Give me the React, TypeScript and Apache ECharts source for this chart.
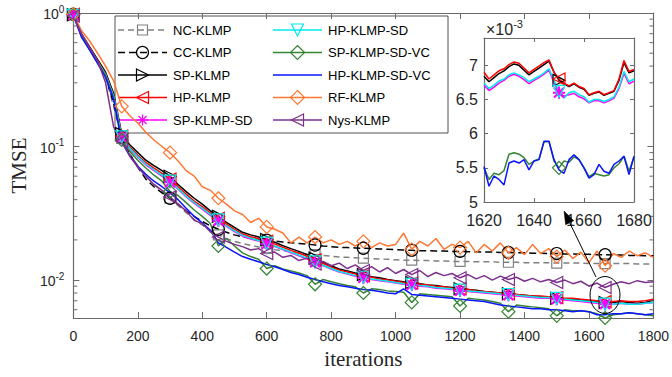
import React, { useEffect, useRef } from "react";
import * as echarts from "echarts";

// ---------- data ----------
const ITER: number[] = Array.from({ length: 73 }, (_, i) => i * 25);
const ITER_INSET: number[] = Array.from({ length: 31 }, (_, i) => 1620 + i * 2);

const NC_KLMP = [
  0.97, 0.68, 0.54, 0.43, 0.33, 0.2, 0.115, 0.088, 0.072, 0.06, 0.052, 0.046,
  0.041, 0.036, 0.032, 0.0285, 0.0258, 0.0235, 0.0218, 0.0205, 0.0195, 0.0188, 0.0182, 0.0177,
  0.0173, 0.0169, 0.0166, 0.0163, 0.016, 0.0157, 0.0155, 0.0153, 0.0151, 0.0149, 0.0148, 0.0147,
  0.0146, 0.0145, 0.0144, 0.0143, 0.0142, 0.0141, 0.0141, 0.014, 0.014, 0.0139, 0.0139, 0.0138,
  0.0138, 0.0138, 0.0137, 0.0137, 0.0137, 0.0136, 0.0136, 0.0136, 0.0135, 0.0135, 0.0135, 0.0135,
  0.0134, 0.0134, 0.0134, 0.0134, 0.0133, 0.0133, 0.0133, 0.0133, 0.0133, 0.0133, 0.0132, 0.0132,
  0.0132,
];
const CC_KLMP = [
  0.98, 0.69, 0.55, 0.44, 0.34, 0.21, 0.118, 0.088, 0.07, 0.057, 0.05, 0.045,
  0.041, 0.037, 0.033, 0.03, 0.0275, 0.0255, 0.024, 0.0228, 0.0218, 0.0211, 0.0206, 0.0202,
  0.0199, 0.0196, 0.0193, 0.019, 0.0188, 0.0186, 0.0183, 0.018, 0.0178, 0.0176, 0.0175, 0.0174,
  0.0173, 0.0172, 0.0171, 0.017, 0.0169, 0.0168, 0.0167, 0.0166, 0.0166, 0.0165, 0.0165, 0.0164,
  0.0164, 0.0163, 0.0163, 0.0162, 0.0162, 0.0161, 0.0161, 0.016, 0.016, 0.0159, 0.0159, 0.0158,
  0.0158, 0.0157, 0.0157, 0.0156, 0.0156, 0.0155, 0.0155, 0.0154, 0.0154, 0.0153, 0.0153, 0.0152,
  0.0152,
];
const SP_KLMP = [
  0.97, 0.7, 0.56, 0.45, 0.36, 0.25, 0.125, 0.103, 0.09, 0.079, 0.072, 0.066,
  0.06, 0.052, 0.046, 0.041, 0.037, 0.033, 0.03, 0.027, 0.0248, 0.0228, 0.0218, 0.021,
  0.0201, 0.0192, 0.0181, 0.0172, 0.0164, 0.0155, 0.0146, 0.0136, 0.0128, 0.0121, 0.0117, 0.0113,
  0.011, 0.0106, 0.0104, 0.0101, 0.0099, 0.0097, 0.0096, 0.0094, 0.0092, 0.0091, 0.0089, 0.0088,
  0.0086, 0.0085, 0.0084, 0.0082, 0.0081, 0.008, 0.0079, 0.0078, 0.0077, 0.0076, 0.0075, 0.0075,
  0.0073, 0.0072, 0.0072, 0.0071, 0.007, 0.0069, 0.0068, 0.0068, 0.0069, 0.0068, 0.0067, 0.0068,
  0.0071,
];
const HP_KLMP = [
  0.98, 0.69, 0.55, 0.44, 0.35, 0.24, 0.12, 0.099, 0.086, 0.076, 0.069, 0.063,
  0.057, 0.05, 0.044, 0.039, 0.0355, 0.0318, 0.029, 0.0262, 0.024, 0.0221, 0.0211, 0.0204,
  0.0195, 0.0186, 0.0176, 0.0167, 0.0159, 0.0151, 0.0142, 0.0133, 0.0125, 0.0119, 0.0115, 0.0111,
  0.0108, 0.0105, 0.0102, 0.01, 0.0098, 0.0096, 0.0095, 0.0093, 0.0092, 0.009, 0.0089, 0.0087,
  0.0086, 0.0085, 0.0083, 0.0082, 0.0081, 0.008, 0.0079, 0.0078, 0.0077, 0.0076, 0.0076, 0.0075,
  0.0074, 0.0073, 0.0073, 0.0072, 0.0071, 0.007, 0.0069, 0.0069, 0.007, 0.0069, 0.0069, 0.007,
  0.0072,
];
const SP_KLMP_SD = [
  0.97, 0.68, 0.54, 0.43, 0.34, 0.235, 0.117, 0.096, 0.083, 0.073, 0.066, 0.06,
  0.054, 0.048, 0.042, 0.0375, 0.034, 0.0305, 0.0278, 0.0252, 0.0231, 0.0213, 0.0203, 0.0196,
  0.0187, 0.0178, 0.0169, 0.016, 0.0152, 0.0144, 0.0136, 0.0128, 0.0121, 0.0115, 0.0111, 0.0107,
  0.0104, 0.0101, 0.0099, 0.0097, 0.0095, 0.0093, 0.0092, 0.009, 0.0089, 0.0087, 0.0086, 0.0085,
  0.0083, 0.0082, 0.0081, 0.008, 0.0079, 0.0078, 0.0077, 0.0076, 0.0075, 0.0074, 0.0073, 0.0073,
  0.0072, 0.0071, 0.007, 0.0069, 0.0068, 0.0067, 0.0066, 0.0066, 0.0067, 0.0066, 0.0066, 0.0067,
  0.0068,
];
const HP_KLMP_SD = [
  0.96, 0.69, 0.545, 0.435, 0.345, 0.238, 0.118, 0.097, 0.084, 0.074, 0.067, 0.061,
  0.055, 0.0485, 0.0425, 0.038, 0.0345, 0.031, 0.0282, 0.0256, 0.0234, 0.0216, 0.0206, 0.0198,
  0.0189, 0.018, 0.0171, 0.0162, 0.0154, 0.0146, 0.0137, 0.0129, 0.0122, 0.0116, 0.0112, 0.0108,
  0.0105, 0.0102, 0.01, 0.0098, 0.0096, 0.0094, 0.0093, 0.0091, 0.009, 0.0088, 0.0087, 0.0086,
  0.0084, 0.0083, 0.0082, 0.0081, 0.008, 0.0079, 0.0078, 0.0077, 0.0076, 0.0075, 0.0074, 0.0074,
  0.0073, 0.0072, 0.0071, 0.007, 0.0069, 0.0068, 0.0066, 0.0066, 0.0067, 0.0066, 0.0066, 0.0067,
  0.0068,
];
const SP_KLMP_SD_VC = [
  0.97, 0.69, 0.54, 0.43, 0.34, 0.232, 0.112, 0.092, 0.079, 0.069, 0.061, 0.055,
  0.046, 0.043, 0.038, 0.0335, 0.03, 0.0265, 0.018, 0.0205, 0.018, 0.016, 0.015, 0.0143,
  0.0122, 0.0128, 0.0121, 0.0117, 0.0113, 0.0108, 0.0093, 0.0101, 0.0097, 0.0094, 0.0091, 0.0089,
  0.008, 0.0086, 0.0085, 0.0083, 0.0082, 0.0081, 0.0068, 0.0079, 0.0078, 0.0077, 0.0076, 0.0075,
  0.0064, 0.0073, 0.0072, 0.0071, 0.0069, 0.0067, 0.0058, 0.0065, 0.0064, 0.0063, 0.0062, 0.0061,
  0.0054, 0.006, 0.0059, 0.0059, 0.0058, 0.0056, 0.0052, 0.0055, 0.0056, 0.0057, 0.0056, 0.0055,
  0.0054,
];
const HP_KLMP_SD_VC = [
  0.96, 0.66, 0.53, 0.42, 0.33, 0.225, 0.108, 0.085, 0.071, 0.062, 0.055, 0.05,
  0.045, 0.04, 0.0345, 0.03, 0.0268, 0.0236, 0.019, 0.0176, 0.0162, 0.015, 0.0143, 0.0137,
  0.0131, 0.0126, 0.012, 0.0114, 0.011, 0.0105, 0.0101, 0.0097, 0.0094, 0.0091, 0.0089, 0.0087,
  0.0085, 0.0084, 0.0082, 0.008, 0.0079, 0.0086, 0.0078, 0.0077, 0.0076, 0.0075, 0.0074, 0.0073,
  0.0072, 0.0071, 0.007, 0.0069, 0.0067, 0.0065, 0.0064, 0.0063, 0.0062, 0.0061, 0.0061, 0.006,
  0.006, 0.0059, 0.0058, 0.0059, 0.0058, 0.0055, 0.0055, 0.0056, 0.0056, 0.0057, 0.0056, 0.0055,
  0.0056,
];
const RF_KLMP = [
  0.98, 0.74, 0.62, 0.5, 0.4, 0.31, 0.2, 0.17, 0.15, 0.128, 0.112, 0.1,
  0.09, 0.078, 0.066, 0.06, 0.05, 0.047, 0.041, 0.037, 0.033, 0.031, 0.027, 0.029,
  0.025, 0.024, 0.0225, 0.019, 0.021, 0.019, 0.021, 0.019, 0.02, 0.0185, 0.0195, 0.018,
  0.0195, 0.0175, 0.019, 0.018, 0.0185, 0.0225, 0.017, 0.0195, 0.018, 0.0205, 0.017, 0.0185,
  0.0175, 0.0195, 0.016, 0.0185, 0.0165, 0.019, 0.016, 0.0175, 0.0155, 0.0185, 0.0158, 0.0172,
  0.015, 0.0168, 0.0145, 0.0162, 0.0135, 0.0165, 0.0128, 0.0158, 0.0148, 0.0165, 0.0152, 0.016,
  0.0148,
];
const NYS_KLMP = [
  0.95, 0.7, 0.55, 0.44, 0.3, 0.14, 0.11, 0.085, 0.07, 0.06, 0.052, 0.047,
  0.042, 0.037, 0.033, 0.028, 0.0265, 0.023, 0.021, 0.0195, 0.0185, 0.0178, 0.0168, 0.0172,
  0.0158, 0.0162, 0.0148, 0.0153, 0.014, 0.0146, 0.0132, 0.0138, 0.0128, 0.0134, 0.0122, 0.013,
  0.0118, 0.0126, 0.0115, 0.0124, 0.0112, 0.012, 0.011, 0.0118, 0.0106, 0.0114, 0.0108, 0.0112,
  0.0104, 0.011, 0.0102, 0.0108, 0.01, 0.0107, 0.0101, 0.0105, 0.0098, 0.0103, 0.0097, 0.0101,
  0.0096, 0.01, 0.0094, 0.0098, 0.009, 0.0095, 0.0088, 0.0093, 0.0097, 0.0094, 0.0099, 0.0096,
  0.0097,
];

// inset values, in units of 1e-3
const INSET_SP = [6.84, 6.76, 6.82, 6.88, 6.92, 6.98, 7.02, 7.0, 6.93, 6.86, 6.91, 6.96, 7.01, 7.06, 6.9, 6.78, 6.73, 6.69, 6.73, 6.68, 6.65, 6.56, 6.59, 6.61, 6.56, 6.59, 6.62, 6.78, 7.04, 6.89, 6.92];
const INSET_HP = [6.9, 6.8, 6.86, 6.92, 6.95, 7.01, 7.05, 7.03, 6.96, 6.89, 6.94, 6.99, 7.04, 7.08, 6.9, 6.8, 6.74, 6.7, 6.74, 6.69, 6.66, 6.57, 6.6, 6.62, 6.57, 6.6, 6.63, 6.8, 7.07, 6.91, 6.94];
const INSET_SP_SD = [6.71, 6.63, 6.68, 6.74, 6.78, 6.84, 6.87, 6.84, 6.79, 6.73, 6.78, 6.82, 6.87, 6.93, 6.75, 6.6, 6.55, 6.57, 6.59, 6.54, 6.51, 6.45, 6.48, 6.48, 6.45, 6.48, 6.52, 6.66, 6.88, 6.73, 6.77];
const INSET_HP_SD = [6.74, 6.66, 6.71, 6.77, 6.8, 6.86, 6.89, 6.86, 6.82, 6.76, 6.8, 6.84, 6.89, 6.95, 6.78, 6.62, 6.52, 6.6, 6.62, 6.57, 6.54, 6.46, 6.5, 6.5, 6.47, 6.5, 6.54, 6.68, 6.91, 6.76, 6.8];
const INSET_SP_SD_VC = [5.5, 5.33, 5.42, 5.4, 5.46, 5.7, 5.72, 5.7, 5.65, 5.55, 5.6, 5.63, 5.88, 5.88, 5.6, 5.5, 5.6, 5.58, 5.66, 5.62, 5.5, 5.37, 5.42, 5.4, 5.38, 5.4, 5.5, 5.56, 5.67, 5.45, 5.66];
const INSET_HP_SD_VC = [5.52, 5.23, 5.38, 5.33, 5.25, 5.57, 5.6, 5.57, 5.62, 5.47, 5.6, 5.62, 5.89, 5.89, 5.62, 5.47, 5.42, 5.62, 5.69, 5.62, 5.5, 5.35, 5.4, 5.55, 5.45, 5.42, 5.55, 5.6, 5.67, 5.4, 5.67];

const MINOR_TICKS = [0.006, 0.007, 0.008, 0.009, 0.02, 0.03, 0.04, 0.05, 0.06, 0.07, 0.08, 0.09, 0.2, 0.3, 0.4, 0.5, 0.6, 0.7, 0.8, 0.9];

// ---------- styles ----------
const SANS = "'Liberation Sans', Arial, Helvetica, sans-serif";
const SERIF = "'Liberation Serif', 'Times New Roman', serif";
const AX = "#6a6a6a";
const LBL = "#262626";

const RIGHT_TRI = "path://M0,0L10,5L0,10Z";
const LEFT_TRI = "path://M10,0L0,5L10,10Z";
const DOWN_TRI = "path://M0,0L10,0L5,10Z";
const ASTER =
  "path://M4.6,0H5.4V10H4.6Z M0,4.6H10V5.4H0Z M1.2,0.6L9.4,8.8L8.8,9.4L0.6,1.2Z M8.8,0.6L9.4,1.2L1.2,9.4L0.6,8.8Z";

type Sty = {
  name: string;
  data: number[];
  inset?: number[];
  color: string;
  dash?: number[];
  symbol: string | null;
  size: number;
  filled?: boolean;
  lg: string;
};

const STYLES: Sty[] = [
  { name: "NC-KLMP", data: NC_KLMP, color: "#808080", dash: [6, 4], symbol: "rect", size: 10, lg: "square" },
  { name: "CC-KLMP", data: CC_KLMP, color: "#000000", dash: [7, 4], symbol: "circle", size: 12, lg: "circle" },
  { name: "SP-KLMP", data: SP_KLMP, inset: INSET_SP, color: "#000000", symbol: RIGHT_TRI, size: 12, lg: "right" },
  { name: "HP-KLMP", data: HP_KLMP, inset: INSET_HP, color: "#ff0000", symbol: LEFT_TRI, size: 12, lg: "left" },
  { name: "SP-KLMP-SD", data: SP_KLMP_SD, inset: INSET_SP_SD, color: "#ff00ff", symbol: ASTER, size: 11, filled: true, lg: "aster" },
  { name: "HP-KLMP-SD", data: HP_KLMP_SD, inset: INSET_HP_SD, color: "#00eaea", symbol: DOWN_TRI, size: 12, lg: "down" },
  { name: "SP-KLMP-SD-VC", data: SP_KLMP_SD_VC, inset: INSET_SP_SD_VC, color: "#358535", symbol: "diamond", size: 13, lg: "diamond" },
  { name: "HP-KLMP-SD-VC", data: HP_KLMP_SD_VC, inset: INSET_HP_SD_VC, color: "#0a14ff", symbol: null, size: 0, lg: "none" },
  { name: "RF-KLMP", data: RF_KLMP, color: "#ff7733", symbol: "diamond", size: 13, lg: "diamond" },
  { name: "Nys-KLMP", data: NYS_KLMP, color: "#7e2f8e", symbol: LEFT_TRI, size: 12, lg: "left" },
];

function lineSeries(s: Sty, xs: number[], ys: number[], axisIdx: number, z: number, markAt: (x: number) => boolean) {
  return {
    type: "line",
    name: s.name,
    xAxisIndex: axisIdx,
    yAxisIndex: axisIdx,
    data: xs.map((x, i) => [x, ys[i]]),
    symbol: (v: number[]) => (s.symbol && markAt(v[0]) ? s.symbol : "none"),
    symbolSize: s.size,
    lineStyle: { color: s.color, width: 1.5, type: s.dash ? s.dash : "solid" },
    itemStyle: { color: s.filled ? s.color : "transparent", borderColor: s.color, borderWidth: 1.2 },
    emphasis: { disabled: true },
    silent: true,
    z,
  };
}

function legendMarker(kind: string, cx: number, cy: number, c: string): any[] {
  const st = { fill: "none", stroke: c, lineWidth: 1.2 };
  const poly = (pts: number[][]) => [{ type: "polygon", shape: { points: pts }, style: st }];
  switch (kind) {
    case "square":
      return [{ type: "rect", shape: { x: cx - 5, y: cy - 5, width: 10, height: 10 }, style: st }];
    case "circle":
      return [{ type: "circle", shape: { cx, cy, r: 6 }, style: st }];
    case "right":
      return poly([[cx - 6, cy - 6], [cx + 6, cy], [cx - 6, cy + 6]]);
    case "left":
      return poly([[cx + 6, cy - 6], [cx - 6, cy], [cx + 6, cy + 6]]);
    case "down":
      return poly([[cx - 6, cy - 6], [cx + 6, cy - 6], [cx, cy + 6]]);
    case "diamond":
      return poly([[cx, cy - 7], [cx + 7, cy], [cx, cy + 7], [cx - 7, cy]]);
    case "aster": {
      const r = 5.5;
      const d = 4;
      const segs = [
        [cx - r, cy, cx + r, cy],
        [cx, cy - r, cx, cy + r],
        [cx - d, cy - d, cx + d, cy + d],
        [cx - d, cy + d, cx + d, cy - d],
      ];
      return segs.map((q) => ({ type: "line", shape: { x1: q[0], y1: q[1], x2: q[2], y2: q[3] }, style: { stroke: c, lineWidth: 1.2 } }));
    }
    default:
      return [];
  }
}

function buildLegend(): any {
  const children: any[] = [
    { type: "rect", shape: { x: 115, y: 16, width: 333, height: 117 }, style: { fill: "#fff", stroke: "#262626", lineWidth: 0.8 } },
  ];
  const rows = [30, 52.5, 75, 97.5, 120];
  const cols = [
    { x1: 118, x2: 167, tx: 173 },
    { x1: 273, x2: 322, tx: 328 },
  ];
  STYLES.forEach((s, i) => {
    const col = cols[Math.floor(i / 5)];
    const y = rows[i % 5];
    const cx = (col.x1 + col.x2) / 2;
    children.push({
      type: "line",
      shape: { x1: col.x1, y1: y, x2: col.x2, y2: y },
      style: { stroke: s.color, lineWidth: 1.5, lineDash: s.dash ? s.dash : null },
    });
    children.push(...legendMarker(s.lg, cx, y, s.color));
    children.push({
      type: "text",
      x: col.tx,
      y,
      style: { text: s.name, fill: "#000", fontSize: 13, fontFamily: SANS, verticalAlign: "middle", align: "left" },
    });
  });
  return { type: "group", z: 100, children };
}

function buildAnnotations(): any[] {
  const start = [596, 277];
  const tip = [564, 211];
  const dx = tip[0] - start[0];
  const dy = tip[1] - start[1];
  const len = Math.sqrt(dx * dx + dy * dy);
  const ux = dx / len;
  const uy = dy / len;
  const hl = 13;
  const hw = 4.5;
  const bx = tip[0] - ux * hl;
  const by = tip[1] - uy * hl;
  return [
    { type: "ellipse", z: 100, shape: { cx: 605, cy: 295, rx: 15, ry: 18.5 }, style: { fill: "none", stroke: "#000", lineWidth: 1 } },
    { type: "line", z: 100, shape: { x1: start[0], y1: start[1], x2: bx, y2: by }, style: { stroke: "#000", lineWidth: 1 } },
    {
      type: "polygon",
      z: 100,
      shape: { points: [[tip[0], tip[1]], [bx - uy * hw, by + ux * hw], [bx + uy * hw, by - ux * hw]] },
      style: { fill: "#000", stroke: "#000", lineWidth: 0.5 },
    },
    {
      type: "text",
      z: 100,
      x: 486,
      y: 19,
      style: {
        text: "{b|×10}{s|-3}",
        verticalAlign: "top",
        align: "left",
        rich: {
          b: { fontSize: 16, fontFamily: SANS, fill: LBL, lineHeight: 18, verticalAlign: "bottom" },
          s: { fontSize: 11, fontFamily: SANS, fill: LBL, lineHeight: 12, verticalAlign: "bottom", padding: [0, 0, 8, 0] },
        },
      },
    },
  ];
}

const frame = (len: number) => ({
  axisLine: { show: true, onZero: false, lineStyle: { color: AX, width: 1.2 } },
  axisTick: { show: true, inside: true, length: len, lineStyle: { color: AX, width: 1 } },
  splitLine: { show: false },
});

const plainNumber = (v: number) => String(v);

const logLabel = (v: number) => {
  const l = Math.log10(v);
  const e = Math.round(l);
  if (Math.abs(l - e) > 1e-6) return "";
  return `{b|10}{s|${e}}`;
};

export default function App() {
  const ref = useRef<HTMLDivElement>(null);
  useEffect(() => {
    document.body.style.margin = "0";
    const chart = echarts.init(ref.current!, undefined, { renderer: "svg" });
    const mainSeries = STYLES.map((s) => lineSeries(s, ITER, s.data, 0, 2, (x) => x % 150 === 0 && x < 1800));
    const insetSeries = STYLES.filter((s) => s.inset).map((s) => lineSeries(s, ITER_INSET, s.inset as number[], 2, 12, (x) => x === 1650));
    const option: any = {
      animation: false,
      backgroundColor: "#fff",
      textStyle: { fontFamily: SANS },
      grid: [
        { left: 70, top: 13, width: 584, height: 305, show: false },
        { left: 484, top: 38, width: 150, height: 164, show: true, backgroundColor: "#fff", borderWidth: 0, z: 10 },
      ],
      xAxis: [
        {
          type: "value", gridIndex: 0, position: "bottom", min: 0, max: 1800, interval: 200, ...frame(6),
          axisLabel: { color: LBL, fontSize: 14, fontFamily: SANS, margin: 11, formatter: plainNumber },
          name: "iterations", nameLocation: "middle", nameGap: 30,
          nameTextStyle: { fontFamily: SERIF, fontSize: 21, color: LBL },
        },
        { type: "value", gridIndex: 0, position: "top", min: 0, max: 1800, interval: 200, ...frame(6), axisLabel: { show: false } },
        {
          type: "value", gridIndex: 1, position: "bottom", min: 1620, max: 1680, interval: 20, ...frame(4), z: 11,
          axisLabel: { color: LBL, fontSize: 16, fontFamily: SANS, margin: 10, formatter: plainNumber },
        },
        { type: "value", gridIndex: 1, position: "top", min: 1620, max: 1680, interval: 20, ...frame(4), z: 11, axisLabel: { show: false } },
      ],
      yAxis: [
        {
          type: "log", logBase: 10, gridIndex: 0, position: "left", min: 0.0052, max: 1, ...frame(6),
          axisLabel: {
            formatter: logLabel, margin: 9,
            rich: {
              b: { fontSize: 14, fontFamily: SANS, color: LBL, lineHeight: 16, verticalAlign: "bottom" },
              s: { fontSize: 10, fontFamily: SANS, color: LBL, lineHeight: 12, verticalAlign: "bottom", padding: [0, 0, 7, 0] },
            },
          },
          name: "TMSE", nameLocation: "middle", nameGap: 42, nameRotate: 90,
          nameTextStyle: { fontFamily: SERIF, fontSize: 21, color: LBL },
        },
        { type: "log", logBase: 10, gridIndex: 0, position: "right", min: 0.0052, max: 1, ...frame(6), axisLabel: { show: false } },
        {
          type: "value", gridIndex: 1, position: "left", min: 5, max: 7.4, interval: 0.5, ...frame(4), z: 11,
          axisLabel: {
            color: LBL, fontSize: 16, fontFamily: SANS, margin: 6,
            formatter: (v: number) => (Math.abs(v * 2 - Math.round(v * 2)) > 1e-6 ? "" : String(v)),
          },
        },
        { type: "value", gridIndex: 1, position: "right", min: 5, max: 7.4, interval: 0.5, ...frame(4), z: 11, axisLabel: { show: false } },
      ],
      series: [
        ...mainSeries,
        {
          type: "custom",
          xAxisIndex: 0,
          yAxisIndex: 0,
          silent: true,
          z: 3,
          clip: false,
          data: MINOR_TICKS.map((v) => [0, v]),
          renderItem: (_p: any, api: any) => {
            const v = api.value(1);
            const a = api.coord([0, v]);
            const b = api.coord([1800, v]);
            const st = { stroke: AX, lineWidth: 1 };
            return {
              type: "group",
              children: [
                { type: "line", shape: { x1: a[0], y1: a[1], x2: a[0] + 4, y2: a[1] }, style: st },
                { type: "line", shape: { x1: b[0], y1: b[1], x2: b[0] - 4, y2: b[1] }, style: st },
              ],
            };
          },
        },
        ...insetSeries,
      ],
      graphic: [buildLegend(), ...buildAnnotations()],
    };
    chart.setOption(option);
    return () => chart.dispose();
  }, []);
  return <div ref={ref} style={{ position: "fixed", left: 0, top: 0, width: 672, height: 377 }} />;
}
